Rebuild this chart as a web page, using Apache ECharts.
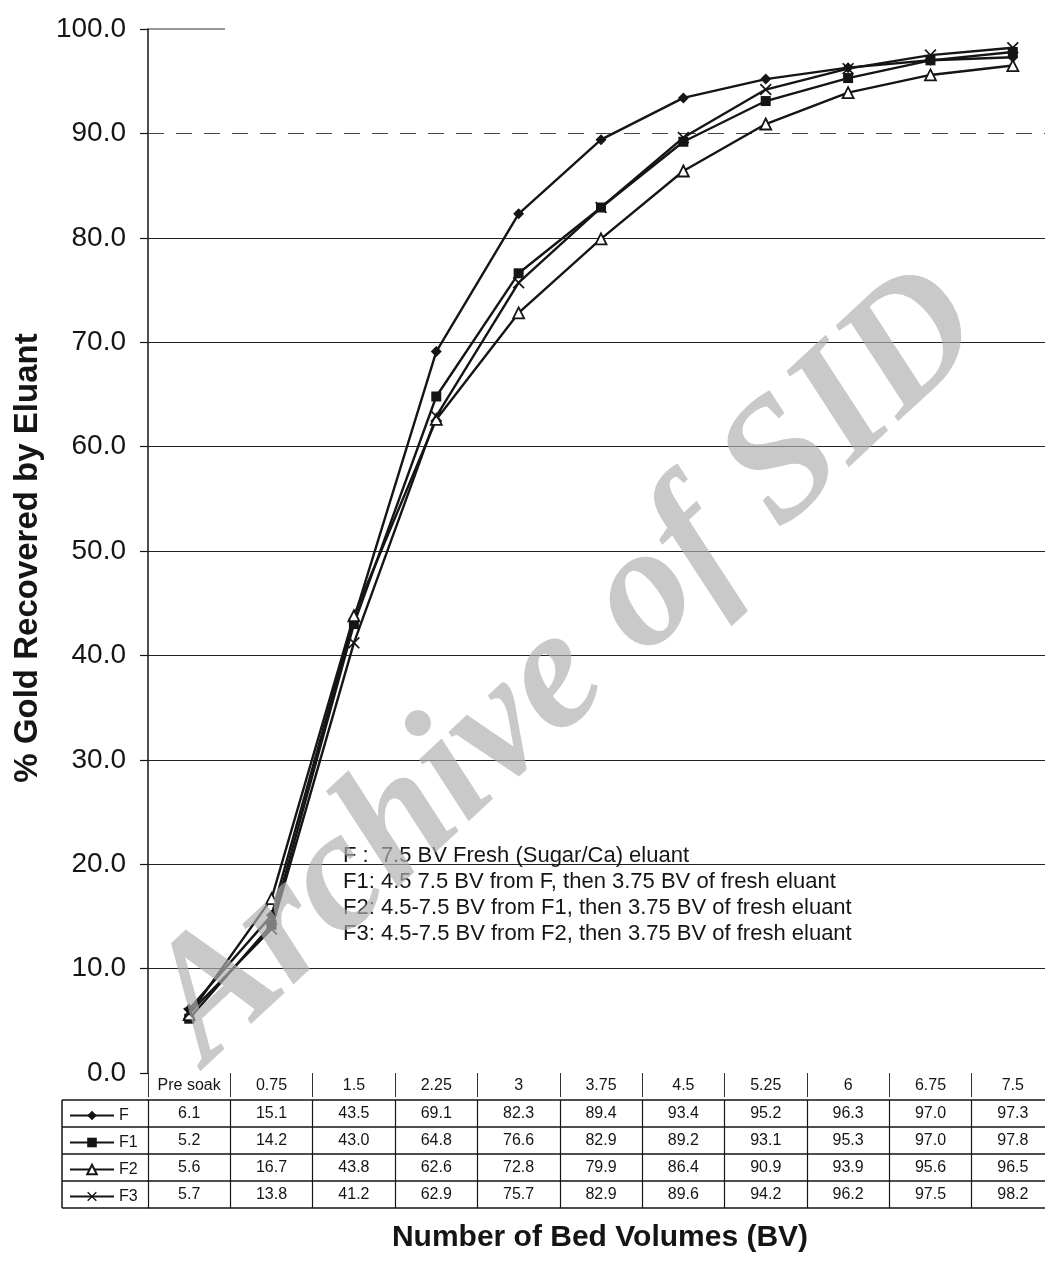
<!DOCTYPE html>
<html>
<head>
<meta charset="utf-8">
<script src="https://cdn.jsdelivr.net/npm/echarts@6/dist/echarts.min.js"></script>
<style>
html,body{margin:0;padding:0;background:#fff;}
#chart{width:1045px;height:1267px;}
</style>
</head>
<body>
<div id="chart"></div>
<script>
// ---- data ----
const categories = ['Pre soak','0.75','1.5','2.25','3','3.75','4.5','5.25','6','6.75','7.5'];
const seriesNames = ['F','F1','F2','F3'];
const valuesF  = [6.1, 15.1, 43.5, 69.1, 82.3, 89.4, 93.4, 95.2, 96.3, 97.0, 97.3];
const valuesF1 = [5.2, 14.2, 43.0, 64.8, 76.6, 82.9, 89.2, 93.1, 95.3, 97.0, 97.8];
const valuesF2 = [5.6, 16.7, 43.8, 62.6, 72.8, 79.9, 86.4, 90.9, 93.9, 95.6, 96.5];
const valuesF3 = [5.7, 13.8, 41.2, 62.9, 75.7, 82.9, 89.6, 94.2, 96.2, 97.5, 98.2];
const yGridValues = [10, 20, 30, 40, 50, 60, 70, 80];
const yDashedValue = 90;
const notes = [
  'F :  7.5 BV Fresh (Sugar/Ca) eluant',
  'F1: 4.5 7.5 BV from F, then 3.75 BV of fresh eluant',
  'F2: 4.5-7.5 BV from F1, then 3.75 BV of fresh eluant',
  'F3: 4.5-7.5 BV from F2, then 3.75 BV of fresh eluant'
];
const yTitle = '% Gold Recovered by Eluant';
const xTitle = 'Number of Bed Volumes (BV)';
const watermark = 'Archive of SID';

// ---- layout ----
const GL = 148, GT = 29, GW = 906, GH = 1044;
const BASE = GT + GH;            // y of 0.0
const ROW = 27;                   // table row height
const FIRST = 27;
const rowOffsets = [FIRST, FIRST + ROW, FIRST + 2 * ROW, FIRST + 3 * ROW, FIRST + 4 * ROW];
const FONT = '"Liberation Sans", Arial, sans-serif';
const INK = '#151515';

const chart = echarts.init(document.getElementById('chart'), null, {renderer: 'canvas'});

const allVals = [valuesF, valuesF1, valuesF2, valuesF3];
const xPath = 'path://M1,0L5,4L9,0L10,1L6,5L10,9L9,10L5,6L1,10L0,9L4,5L0,1Z';
const symbols = ['diamond', 'rect', 'triangle', xPath];
const symSizes = [11, 10, 11, 12];

function rowAxis(vals, offset) {
  return {
    type: 'category', gridIndex: 0, position: 'bottom', offset: offset,
    data: categories, boundaryGap: true,
    axisLine: {show: true, lineStyle: {color: INK, width: 1.5}},
    axisTick: {show: true, interval: 0, length: ROW, lineStyle: {color: INK, width: 1.2}},
    axisLabel: {show: true, interval: 0, margin: 6, fontSize: 16, fontFamily: FONT, color: INK,
      formatter: function (v, i) { return vals[i].toFixed(1); }},
    splitLine: {show: false}
  };
}

const xAxes = [{
  type: 'category', gridIndex: 0, position: 'bottom', data: categories, boundaryGap: true,
  axisLine: {show: false},
  axisTick: {show: true, interval: 0, length: 24, lineStyle: {color: '#333', width: 1}},
  axisLabel: {interval: 0, margin: 5, fontSize: 16, fontFamily: FONT, color: INK},
  splitLine: {show: false}
}];
allVals.forEach(function (v, k) { xAxes.push(rowAxis(v, rowOffsets[k])); });
xAxes.push({
  type: 'category', gridIndex: 0, position: 'bottom', offset: rowOffsets[4], data: categories,
  axisLine: {show: true, lineStyle: {color: INK, width: 1.5}},
  axisTick: {show: false}, axisLabel: {show: false}, splitLine: {show: false}
});

const series = seriesNames.map(function (name, k) {
  const s = {
    name: name, type: 'line', xAxisIndex: 0, yAxisIndex: 0,
    data: allVals[k], symbol: symbols[k], symbolSize: symSizes[k],
    lineStyle: {color: INK, width: 2.4},
    itemStyle: k === 2 ? {color: '#fff', borderColor: INK, borderWidth: 1.8} : {color: INK},
    z: 5, animation: false
  };
  if (k === 0) {
    s.markLine = {
      silent: true, symbol: ['none', 'none'], label: {show: false}, animation: false,
      lineStyle: {color: '#222', width: 1.2, type: 'solid'},
      data: yGridValues.map(function (v) { return {yAxis: v}; }).concat([
        {yAxis: yDashedValue, lineStyle: {color: '#444', width: 1.2, type: [16, 12]}}
      ])
    };
  }
  return s;
});

const rowCenters = rowOffsets.slice(0, 4).map(function (o) { return BASE + o + ROW / 2; });
const legendLines = rowOffsets.map(function (o) {
  return {type: 'line', shape: {x1: 62, y1: BASE + o, x2: GL, y2: BASE + o},
          style: {stroke: INK, lineWidth: 1.5}};
});
legendLines.push({type: 'line', shape: {x1: 62, y1: BASE + rowOffsets[0], x2: 62, y2: BASE + rowOffsets[4]},
                  style: {stroke: INK, lineWidth: 1.5}});

const option = {
  backgroundColor: '#fff',
  animation: false,
  grid: {left: GL, top: GT, width: GW, height: GH, outerBoundsMode: 'none', containLabel: false},
  xAxis: xAxes,
  yAxis: {
    type: 'value', min: 0, max: 100, interval: 10,
    axisLine: {show: true, lineStyle: {color: INK, width: 1.5}},
    axisTick: {show: true, length: 8, lineStyle: {color: INK, width: 1.2}},
    axisLabel: {margin: 22, fontSize: 28, fontFamily: FONT, color: INK,
      formatter: function (v) { return v.toFixed(1); }},
    splitLine: {show: false}
  },
  legend: {
    data: seriesNames, orient: 'vertical', left: 64, top: rowCenters[0] - 11,
    itemWidth: 44, itemHeight: 12, itemGap: ROW - 16,
    textStyle: {fontSize: 16, fontFamily: FONT, color: INK},
    selectedMode: false
  },
  series: series,
  graphic: legendLines.concat([
    {type: 'line', shape: {x1: GL, y1: GT, x2: GL + 77, y2: GT}, style: {stroke: '#333', lineWidth: 1.2}},
    {type: 'text', x: 343, y: 843, z: 10,
     style: {text: notes.join('\n'), font: '22px ' + FONT, fill: INK, lineHeight: 26,
             textVerticalAlign: 'top'}},
    {type: 'text', x: 28, y: 558, rotation: Math.PI / 2, z: 10,
     style: {text: yTitle, font: 'bold 33px ' + FONT, fill: INK, textAlign: 'center', textVerticalAlign: 'middle'}},
    {type: 'text', x: 600, y: 1238, z: 10,
     style: {text: xTitle, font: 'bold 30px ' + FONT, fill: INK, textAlign: 'center', textVerticalAlign: 'middle'}},
    {type: 'text', x: 568, y: 668, rotation: 0.75, z: 100,
     style: {text: watermark, font: 'italic bold 172px "Liberation Serif", "DejaVu Serif", serif',
             fill: 'rgba(175,175,175,0.68)', textAlign: 'center', textVerticalAlign: 'middle'}}
  ])
};
chart.setOption(option);
</script>
</body>
</html>
